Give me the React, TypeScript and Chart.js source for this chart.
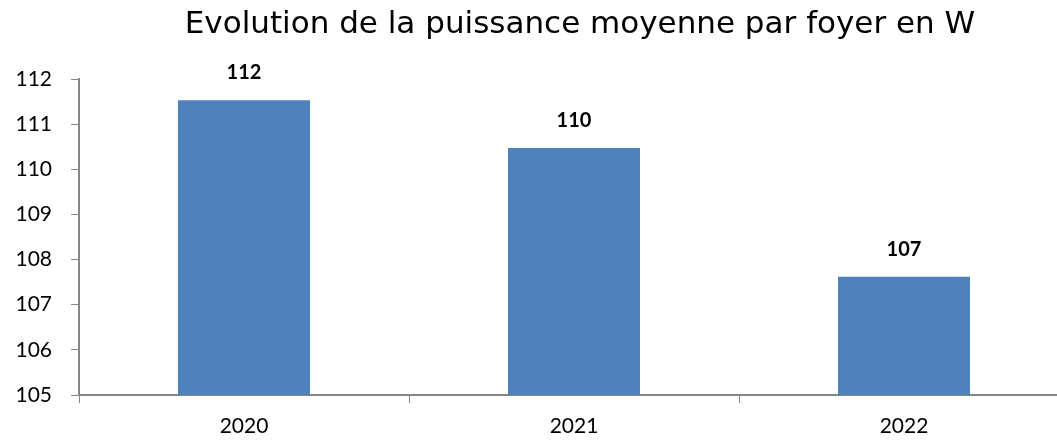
import React, { useEffect, useRef } from "react";
import { Chart, registerables } from "chart.js";

Chart.register(...registerables);

const categories = ["2020", "2021", "2022"];
const values = [111.53, 110.47, 107.62];
const valueLabels = ["112", "110", "107"];
const titleText = "Evolution de la puissance moyenne par foyer en W";

const tickFont = "Lato";

const labelPlugin = {
  id: "barLabels",
  afterDatasetsDraw(chart: any) {
    const ctx = chart.ctx;
    const meta = chart.getDatasetMeta(0);
    ctx.save();
    ctx.font = `bold 20px ${tickFont}`;
    ctx.fillStyle = "#000";
    ctx.textAlign = "center";
    ctx.textBaseline = "alphabetic";
    meta.data.forEach((bar: any, i: number) => {
      ctx.fillText(valueLabels[i], bar.x, bar.y - 21);
    });
    ctx.restore();
  },
};

const titlePlugin = {
  id: "customTitle",
  afterDraw(chart: any) {
    const ctx = chart.ctx;
    ctx.save();
    ctx.font = `31px "DejaVu Sans"`;
    ctx.fillStyle = "#000";
    ctx.textAlign = "center";
    ctx.textBaseline = "alphabetic";
    ctx.fillText(titleText, 580, 33);
    ctx.restore();
  },
};

export default function App() {
  const ref = useRef<HTMLCanvasElement | null>(null);
  useEffect(() => {
    if (!ref.current) return;
    const chart = new Chart(ref.current, {
      type: "bar",
      data: {
        labels: categories,
        datasets: [
          {
            data: values,
            backgroundColor: "#4F81BD",
            borderWidth: 0,
            barPercentage: 1,
            categoryPercentage: 0.4,
          },
        ],
      },
      options: {
        animation: false,
        responsive: false,
        maintainAspectRatio: false,
        layout: { padding: { left: 0, right: 0, top: 79, bottom: 0 } },
        plugins: {
          legend: { display: false },
          tooltip: { enabled: false },
          title: { display: false },
        },
        scales: {
          x: {
            afterFit(scale: any) {
              scale.height = 46;
            },
            grid: {
              display: true,
              drawOnChartArea: false,
              drawTicks: true,
              tickLength: 8,
              color: "#868686",
              offset: true,
            },
            border: { color: "#868686", width: 2 },
            ticks: {
              color: "#000",
              font: { family: tickFont, size: 21 },
              padding: 11,
            },
          },
          y: {
            min: 105,
            max: 112,
            afterFit(scale: any) {
              scale.width = 79;
            },
            grid: {
              display: true,
              drawOnChartArea: false,
              drawTicks: true,
              tickLength: 8,
              color: "#868686",
            },
            border: { color: "#868686", width: 2 },
            ticks: {
              stepSize: 1,
              color: "#000",
              font: { family: tickFont, size: 21 },
              padding: 19,
            },
          },
        },
      },
      plugins: [labelPlugin, titlePlugin],
    });
    return () => chart.destroy();
  }, []);

  return (
    <div
      style={{
        position: "fixed",
        left: 0,
        top: 0,
        width: 1057,
        height: 441,
        overflow: "hidden",
        background: "#fff",
      }}
    >
      <canvas ref={ref} width={1069} height={441} style={{ display: "block" }} />
    </div>
  );
}
